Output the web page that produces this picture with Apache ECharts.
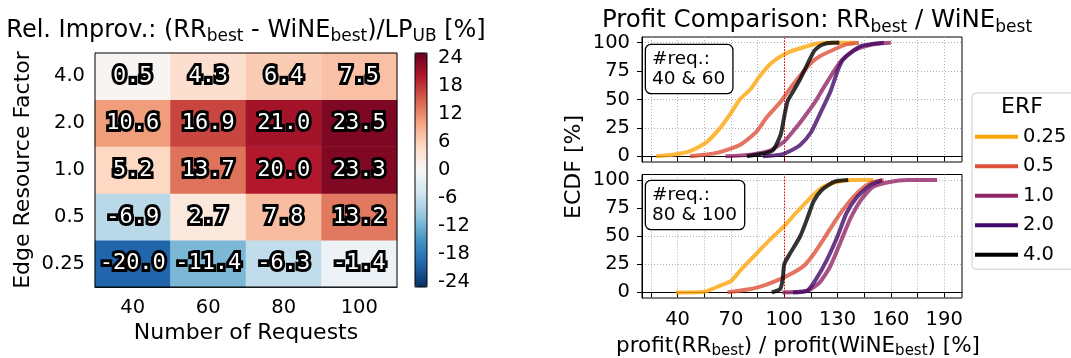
<!DOCTYPE html>
<html>
<head>
<meta charset="utf-8">
<script src="https://cdn.jsdelivr.net/npm/echarts@6/dist/echarts.min.js"></script>
<style>
  html, body { margin: 0; padding: 0; background: #fff; }
  #chart { width: 1071px; height: 358px; }
</style>
</head>
<body>
<div id="chart"></div>
<script>
// ---- Heatmap: relative improvement (RR_best - WiNE_best) / LP_UB in % ----
const requestCounts = ['40', '60', '80', '100'];
const resourceFactors = ['0.25', '0.5', '1.0', '2.0', '4.0'];
const improvErf025 = [-20.0, -11.4, -6.3, -1.4];
const improvErf05  = [-6.9, 2.7, 7.8, 13.2];
const improvErf10  = [5.2, 13.7, 20.0, 23.3];
const improvErf20  = [10.6, 16.9, 21.0, 23.5];
const improvErf40  = [0.5, 4.3, 6.4, 7.5];
const colorbarTicks = [-24, -18, -12, -6, 0, 6, 12, 18, 24];

// ---- ECDF panels: profit ratio RR_best / WiNE_best in % ----
const erfNames = ['0.25', '0.5', '1.0', '2.0', '4.0'];
const profitTicks = [25, 40, 55, 70, 85, 100, 115, 130, 145, 160, 175, 190];
const profitLabels = [40, 70, 100, 130, 160, 190];
const ecdfTicks = [0, 25, 50, 75, 100];

// requests 40 & 60
const few025 = [[28,0],[40,2],[47,4.5],[56,12],[64,25],[70,38],[75,50],[81,59],[86,70],[92,81],[98,88],[103,92],[111,96],[118,99],[124,100],[140,100]];
const few05  = [[47,0],[62,3],[75,10],[84,21],[90,34],[98,48],[103,59],[109,71],[115,82],[120,88],[128,94],[135,98.5],[142,100]];
const few10  = [[67,0],[81,1.5],[92,5],[100,13],[105,22],[111,34],[117,47],[122,60],[128,75],[132,84],[139,93],[147,97.5],[154,99.5],[160,100]];
const few20  = [[88,0],[98,1.5],[103,4.5],[109,10],[115,21],[120,37],[126,57],[130,75],[133,85],[139,93],[143,97],[150,99],[156,100]];
const few40  = [[79,0],[90,3],[94,6],[98,19],[100,35],[102,49],[105,57],[109,68],[113,81],[117,93],[121,98],[127,100],[131,100]];

// requests 80 & 100
const many025 = [[39,0],[55,0.6],[64,6],[70,10],[75,19],[81,29],[86.5,38],[92,47],[100,59],[105,68],[111,78],[116.5,87],[122,94],[130,98.5],[139,100],[150,100]];
const many05  = [[68,0],[81,3],[90,7],[98,12],[105,17.5],[111,23.5],[116.5,34],[122,47],[128,62],[133,73.5],[139,85],[145,94],[150,98.5],[156,100]];
const many10  = [[99,0],[113,1.5],[120,9],[126,23.5],[131.5,44],[137,65],[143,82],[150,94],[160,98.5],[169,100],[186,100]];
const many20  = [[105,0],[113,1.5],[118,12],[124,29],[130,50],[135,70.5],[141,85],[148.5,95.5],[155,100]];
const many40  = [[93,0],[97.7,3],[99.2,12],[100,25],[103.4,35],[109,50],[113,66],[116.5,81],[121,91],[128,98.5],[136,100]];

// ---- styling ----
const FONT = 'DejaVu Sans';
const BLACK = '#000';
const TICK_FS = 19.5;
const rdbuR = ['#053061','#2166ac','#4393c3','#92c5de','#d1e5f0','#f7f7f7',
               '#fddbc7','#f4a582','#d6604d','#b2182b','#67001f'];
const erfColors = ['#fca50a', '#dd513a', '#932667', '#420a68', '#000004'];
const gridDots = { color: '#b0b0b0', width: 1, type: [1, 2] };

const improvRows = [improvErf025, improvErf05, improvErf10, improvErf20, improvErf40];
const heatData = [];
improvRows.forEach((row, r) => row.forEach((v, c) => heatData.push([c, r, v])));

const ecdfSets = [
  [few025, few05, few10, few20, few40],
  [many025, many05, many10, many20, many40]
];

const chart = echarts.init(document.getElementById('chart'));

function tickLabel(extra) {
  return Object.assign({ fontSize: TICK_FS, fontFamily: FONT, color: BLACK }, extra);
}
function profitAxis(gridIndex, showLabels) {
  return {
    type: 'value', gridIndex, min: 20, max: 200,
    axisLine: { show: true, lineStyle: { color: BLACK } },
    axisTick: { show: true, customValues: profitTicks, length: 5, lineStyle: { color: BLACK } },
    axisLabel: tickLabel({ show: showLabels, customValues: profitLabels, margin: 12 }),
    splitLine: { show: true, lineStyle: gridDots }
  };
}
function ecdfAxis(gridIndex) {
  return {
    type: 'value', gridIndex, min: -5, max: 105,
    axisLine: { show: true, lineStyle: { color: BLACK } },
    axisTick: { show: true, customValues: ecdfTicks, length: 5, lineStyle: { color: BLACK } },
    axisLabel: tickLabel({ customValues: ecdfTicks, margin: 12 }),
    splitLine: { show: true, lineStyle: gridDots }
  };
}

// centred caption; {s|...} marks a subscript
function caption(text, x, y, size, extra) {
  const sub = Math.round(size * 0.7);
  return Object.assign({
    type: 'text', x, y, z: 100,
    style: {
      text, fontSize: size, fontFamily: FONT, fill: BLACK,
      align: 'center', verticalAlign: 'middle', lineHeight: Math.round(size * 1.22),
      rich: { s: { fontSize: sub, fontFamily: FONT, fill: BLACK, verticalAlign: 'bottom' } }
    }
  }, extra || {});
}
function reqBox(text, x, y) {
  return {
    type: 'text', x, y, z: 100,
    style: {
      text, fontSize: 18.5, fontFamily: FONT, fill: BLACK, lineHeight: 20,
      align: 'left', verticalAlign: 'top',
      backgroundColor: '#fff', borderColor: BLACK, borderWidth: 1.3, borderRadius: 5,
      padding: [4, 7, 4, 6]
    }
  };
}

const series = [{
  type: 'heatmap', xAxisIndex: 0, yAxisIndex: 0, data: heatData, z: 1,
  label: {
    show: true, formatter: p => p.value[2].toFixed(1),
    fontFamily: 'DejaVu Sans Mono', fontSize: 22, color: '#fff',
    textBorderColor: BLACK, textBorderWidth: 6
  },
  emphasis: { disabled: true }
}];

ecdfSets.forEach((set, p) => {
  erfNames.forEach((name, i) => {
    const s = {
      type: 'line', name, xAxisIndex: 2 + p, yAxisIndex: 2 + p,
      data: set[i], symbol: 'none', smooth: 0.2, z: 3 + i,
      lineStyle: { color: erfColors[i], width: 4, opacity: 0.8 },
      itemStyle: { color: erfColors[i] },
      emphasis: { disabled: true }
    };
    if (i === 0) {
      s.markLine = {
        silent: true, symbol: ['none', 'none'], label: { show: false },
        lineStyle: { color: '#ff0000', type: [1.5, 1.5], width: 1 },
        data: [{ xAxis: 100 }]
      };
    }
    series.push(s);
  });
});

chart.setOption({
  animation: false,
  backgroundColor: '#fff',
  grid: [
    { left: 95, top: 53, width: 302, height: 234, show: true, borderColor: BLACK, borderWidth: 1, backgroundColor: 'transparent', z: 3 },
    { left: 415, top: 53, width: 12, height: 234, show: true, borderColor: BLACK, borderWidth: 1, backgroundColor: 'transparent', z: 6 },
    { left: 642, top: 37, width: 320, height: 125, show: true, borderColor: BLACK, borderWidth: 1 },
    { left: 642, top: 174.5, width: 320, height: 123.5, show: true, borderColor: BLACK, borderWidth: 1 }
  ],
  xAxis: [
    {
      type: 'category', gridIndex: 0, data: requestCounts,
      axisLine: { show: true, lineStyle: { color: BLACK } },
      axisTick: { alignWithLabel: true, length: 5, lineStyle: { color: BLACK } },
      axisLabel: tickLabel({ margin: 11 }),
      splitLine: { show: false }
    },
    { type: 'value', gridIndex: 1, show: false, min: 0, max: 1 },
    profitAxis(2, false),
    profitAxis(3, true)
  ],
  yAxis: [
    {
      type: 'category', gridIndex: 0, data: resourceFactors,
      axisLine: { show: true, lineStyle: { color: BLACK } },
      axisTick: { alignWithLabel: true, length: 5, lineStyle: { color: BLACK } },
      axisLabel: tickLabel({ margin: 10 }),
      splitLine: { show: false }
    },
    {
      type: 'value', gridIndex: 1, position: 'right', min: -25, max: 25,
      axisLine: { show: false },
      axisTick: { show: true, customValues: colorbarTicks, length: 4, lineStyle: { color: BLACK } },
      axisLabel: tickLabel({ customValues: colorbarTicks, margin: 11 }),
      splitLine: { show: false }
    },
    ecdfAxis(2),
    ecdfAxis(3)
  ],
  visualMap: {
    type: 'continuous', seriesIndex: 0, dimension: 2, min: -25, max: 25,
    calculable: false, realtime: false, hoverLink: false,
    inRange: { color: rdbuR },
    itemWidth: 12, itemHeight: 234, left: 415, top: 53, padding: 0
  },
  legend: {
    data: erfNames, orient: 'vertical', left: 972, top: 93,
    icon: 'rect', itemWidth: 43, itemHeight: 4,
    padding: [33.7, 12, 4.5, 3], itemGap: 9.5,
    textStyle: { fontSize: TICK_FS, fontFamily: FONT, color: BLACK, lineHeight: 20 },
    borderColor: '#cccccc', borderWidth: 1, borderRadius: 4,
    backgroundColor: 'rgba(255,255,255,0.8)', selectedMode: false
  },
  graphic: [
    caption('Rel. Improv.: (RR{s|best} - WiNE{s|best})/LP{s|UB} [%]', 246, 30.5, 24),
    caption('Profit Comparison: RR{s|best} / WiNE{s|best}', 817, 21, 24.5),
    caption('Number of Requests', 246, 333, 22),
    caption('Edge Resource Factor', 23, 170, 22, { rotation: Math.PI / 2 }),
    caption('profit(RR{s|best}) / profit(WiNE{s|best}) [%]', 798, 346, 21.5),
    caption('ECDF [%]', 574, 167, 22, { rotation: Math.PI / 2 }),
    caption('ERF', 1022, 107, 22),
    reqBox('#req.:\n40 & 60', 646, 45),
    reqBox('#req.:\n80 & 100', 646, 181)
  ],
  series
});
</script>
</body>
</html>
